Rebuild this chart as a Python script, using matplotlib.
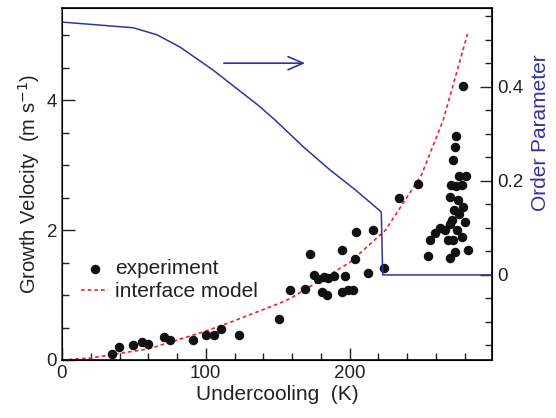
import matplotlib

matplotlib.use("Agg")

import matplotlib.pyplot as plt
from matplotlib.ticker import MultipleLocator

# experiment: undercooling (K), growth velocity (m/s)
exp_x = [34.8, 39.7, 49.4, 55.7, 59.8, 71.0, 75.2, 91.2, 100.2, 105.8, 110.6, 123.2, 151.0,
         158.7, 169.0, 172.6, 175.0, 178.0, 182.0, 181.0, 184.0, 185.0, 189.0, 195.0, 197.0,
         199.0, 202.0, 204.0, 195.0, 204.6, 213.0, 216.0, 224.0, 234.0,
         279.1, 274.2, 273.5, 272.1, 276.3, 281.1, 278.4, 274.2, 270.7, 247.7, 270.0, 275.6,
         279.1, 272.8, 276.3, 271.4, 280.4, 270.0, 274.9, 266.5, 263.0, 259.6, 278.4, 272.1,
         268.6, 282.5, 273.5, 270.0, 254.7, 256.0]
exp_v = [0.09, 0.20, 0.23, 0.28, 0.25, 0.35, 0.31, 0.31, 0.38, 0.38, 0.48, 0.38, 0.63,
         1.08, 1.09, 1.63, 1.31, 1.25, 1.28, 1.05, 1.00, 1.26, 1.29, 1.05, 1.29,
         1.08, 1.08, 1.55, 1.70, 1.97, 1.34, 2.00, 1.42, 2.49,
         4.22, 3.45, 3.28, 3.08, 2.83, 2.83, 2.69, 2.68, 2.69, 2.71, 2.51, 2.46,
         2.35, 2.31, 2.25, 2.15, 2.12, 2.09, 2.00, 2.00, 2.03, 1.95, 1.89, 1.85,
         1.85, 1.69, 1.66, 1.57, 1.60, 1.85]

# interface model curve
model_x = [0, 19.5, 60, 98, 117, 152, 159, 200, 225, 250, 265, 282]
model_v = [0, 0.03, 0.17, 0.43, 0.58, 0.88, 0.95, 1.5, 2.0, 2.85, 3.69, 5.02]

# order parameter
order_x = [0, 49.4, 66, 82, 105, 136, 148, 168, 186.5, 204, 222, 223, 299]
order_p = [0.538, 0.526, 0.511, 0.485, 0.436, 0.362, 0.330, 0.272, 0.223, 0.181, 0.134, 0.0, 0.0]

BLUE = "#33339c"
RED = "#e8262c"
TEXT = "#222222"

plt.rcParams["font.family"] = ["Liberation Sans", "DejaVu Sans"]
plt.rcParams["font.size"] = 13.5
plt.rcParams["text.color"] = TEXT
plt.rcParams["axes.labelcolor"] = TEXT
plt.rcParams["xtick.color"] = TEXT
plt.rcParams["ytick.color"] = TEXT

fig = plt.figure(figsize=(5.56, 4.18), dpi=100)
ax = fig.add_axes([0.1115, 0.1388, 0.7734, 0.8421])

ax.plot(model_x, model_v, color=RED, linestyle=(0, (2.2, 1.8)), linewidth=1.2, label="interface model")
ax.scatter(exp_x, exp_v, s=34, color="#111111", zorder=3, label="experiment")

ax.set_xlim(0, 299)
ax.set_ylim(0, 5.42)
ax.xaxis.set_major_locator(MultipleLocator(100))
ax.xaxis.set_minor_locator(MultipleLocator(20))
ax.yaxis.set_major_locator(MultipleLocator(2))
ax.yaxis.set_minor_locator(MultipleLocator(0.5))
ax.tick_params(which="both", direction="in", top=False, right=False)
ax.tick_params(which="major", length=9, width=1)
ax.tick_params(which="minor", length=5, width=1)
ax.set_xlabel("Undercooling  (K)", fontsize=15, labelpad=2)
ax.set_ylabel("Growth Velocity  (m s$^{-1}$)", fontsize=14.5, labelpad=3)
for side in ["left", "bottom", "top", "right"]:
    ax.spines[side].set_linewidth(1.2)
ax.spines["left"].set_color("#555555")

handles, labels = ax.get_legend_handles_labels()
ax.legend(handles[::-1], labels[::-1], loc="upper left", bbox_to_anchor=(0.025, 0.31),
          frameon=False, handlelength=1.3, handletextpad=0.35, labelspacing=0.2,
          borderaxespad=0, fontsize=15)

ax2 = ax.twinx()
ax2.plot(order_x, order_p, color=BLUE, linewidth=1.1)
ax2.set_ylim(-0.181, 0.568)
ax2.yaxis.set_major_locator(MultipleLocator(0.2))
ax2.yaxis.set_minor_locator(MultipleLocator(0.05))
ax2.set_yticks([0, 0.2, 0.4])
ax2.set_yticklabels(["0", "0.2", "0.4"])
ax2.tick_params(which="both", direction="in")
ax2.tick_params(which="major", length=9, width=1)
ax2.tick_params(which="minor", length=5, width=1)
ax2.set_ylabel("Order Parameter", color=BLUE, fontsize=15)
ax2.yaxis.set_label_coords(1.09, 0.645)

ax.annotate("", xy=(171, 4.57), xytext=(110.6, 4.57),
            arrowprops=dict(arrowstyle="->,head_length=0.8,head_width=0.35", color=BLUE, lw=1.2))

fig.savefig("out.png", dpi=100)
